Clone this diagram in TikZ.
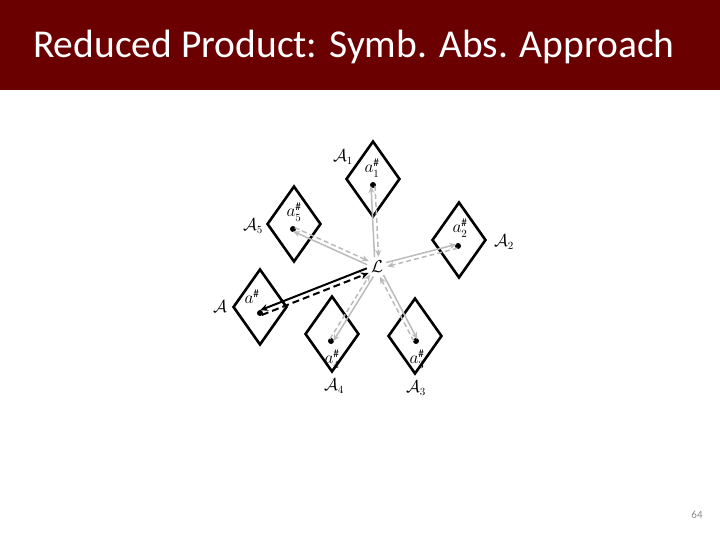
\documentclass[tikz,border=0pt]{standalone}
\usepackage{fontspec}
\setmainfont{Carlito}
\usetikzlibrary{shapes.geometric,calc,arrows.meta}
\definecolor{hdr}{HTML}{6B0000}
\definecolor{arrgray}{HTML}{BBBBBB}
\definecolor{pgnum}{HTML}{8C8C8C}
\begin{document}
\begin{tikzpicture}[x=1pt,y=-1pt,
  dom/.style={draw, shape=diamond, line width=2.6pt, minimum width=54pt, minimum height=76pt, inner sep=0pt, shape aspect=0.7},
  dotn/.style={circle, fill=black, inner sep=0pt, minimum size=6pt},
  lab/.style={inner sep=0pt, font=\fontsize{16}{18}\selectfont},
  gsolid/.style={draw=arrgray, line width=1.5pt, -{Stealth[length=7pt,width=6pt]}},
  gdash/.style={draw=arrgray, line width=1.5pt, dash pattern=on 5pt off 3pt, -{Stealth[length=7pt,width=6pt]}},
  bsolid/.style={draw=black, line width=2pt, -{Stealth[length=8pt,width=7pt]}},
  bdash/.style={draw=black, line width=2pt, dash pattern=on 7pt off 4pt, -{Stealth[length=8pt,width=7pt]}}]
\useasboundingbox (0,0) rectangle (720,540);
\fill[hdr] (0,0) rectangle (720,90);
\node[anchor=base west, text=white, font=\fontsize{39.5}{42}\selectfont, inner sep=0pt] (title) at (33,58) {Reduced Product: Symb. Abs. Approach};
\node[anchor=center, text=pgnum, font=\fontsize{11}{13}\selectfont] (pg) at (697,515) {64};

% domains
\node[dom] (D1) at (373,179) {};
\node[dom] (D5) at (294,224) {};
\node[dom] (D2) at (459,240) {};
\node[dom] (D0) at (260,307) {};
\node[dom] (D4) at (332,334) {};
\node[dom] (D3) at (415,336) {};

% dots
\node[dotn] (d1) at (373,185) {};
\node[dotn] (d5) at (293,229) {};
\node[dotn] (d2) at (458,246) {};
\node[dotn] (d0) at (260,313) {};
\node[dotn] (d4) at (331,341) {};
\node[dotn] (d3) at (416,341) {};

% labels
\node[lab] (l1) at (372,168) {$a_1^\#$};
\node[lab] (l5) at (294,212) {$a_5^\#$};
\node[lab] (l2) at (460,228) {$a_2^\#$};
\node[lab] (l0) at (252,297) {$a^\#$};
\node[lab] (l4) at (332,359) {$a_4^\#$};
\node[lab] (l3) at (417,359) {$a_3^\#$};

\node[lab] (n1) at (343,157) {$\mathcal{A}_1$};
\node[lab] (n5) at (253,226) {$\mathcal{A}_5$};
\node[lab] (n2) at (504,242) {$\mathcal{A}_2$};
\node[lab] (n0) at (220,307) {$\mathcal{A}$};
\node[lab] (n4) at (334,386) {$\mathcal{A}_4$};
\node[lab] (n3) at (416,388) {$\mathcal{A}_3$};

\node[lab] (L) at (377,267) {$\mathcal{L}$};

% connectors
\foreach \d in {d1,d2,d3,d4,d5}{
  \draw[gsolid, shorten <=10pt, shorten >=1pt] ($(L)!2pt!90:(\d)$) -- ($(\d)!2pt!-90:(L)$);
  \draw[gdash, shorten <=1pt, shorten >=10pt] ($(\d)!2pt!90:(L)$) -- ($(L)!2pt!-90:(\d)$);
}
\draw[bsolid, shorten <=10pt, shorten >=1pt] ($(L)!2.5pt!-90:(d0)$) -- ($(d0)!2.5pt!90:(L)$);
\draw[bdash, shorten <=1pt, shorten >=10pt] ($(d0)!2.5pt!-90:(L)$) -- ($(L)!2.5pt!90:(d0)$);
\end{tikzpicture}
\end{document}
